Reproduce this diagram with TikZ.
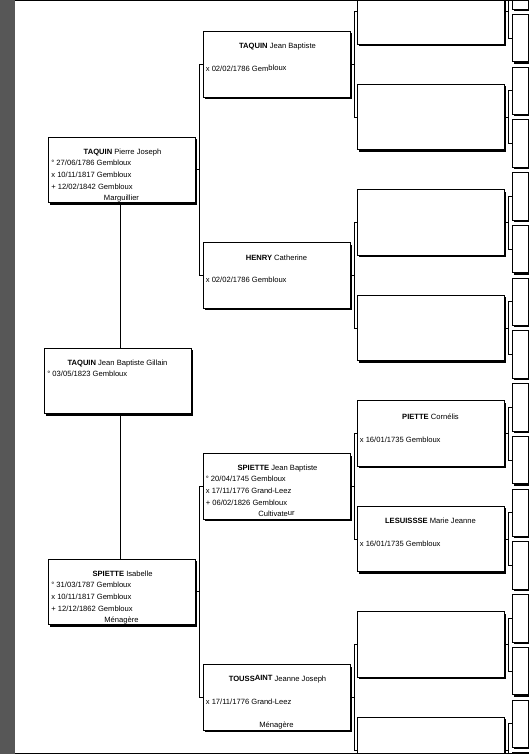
\documentclass[tikz,border=0pt]{standalone}
\usepackage{fontspec}
\setmainfont{Liberation Sans}
\usepackage{tikz}
\usetikzlibrary{calc,positioning,shadows}
\tikzset{
  person/.style={
    shape = rectangle,
    draw,
    fill = white,
    line width = 0.7pt,
    inner sep = 0pt,
    minimum width = 147pt,
    minimum height = 65.5pt,
    general shadow = {fill = black, shadow xshift = 2pt, shadow yshift = -2pt}
  },
}
\tikzset{
  ancestor/.style={
    person,
    minimum width = 16pt,
    minimum height = 47.5pt
  },
}
\tikzset{
  link/.style={
    line width = 0.7pt
  },
  fullname/.style={
    anchor = mid,
    font = \fontsize{7.6}{9}\selectfont,
    inner sep = 0pt
  },
  event/.style={
    anchor = mid west,
    font = \fontsize{7.6}{9}\selectfont,
    inner sep = 0pt
  },
  trade/.style={
    anchor = mid,
    font = \fontsize{7.6}{9}\selectfont,
    inner sep = 0pt
  }
}
\begin{document}
\begin{tikzpicture}[x=1pt,y=-1pt]
    \def\dy{105.5}
    \def\ya{11.5}
    \useasboundingbox (0,0) rectangle (529,754);
    \clip (0,0) rectangle (529,754);
    \fill[black!66] (0,0) rectangle (15,754);
    \node[person] (a) at (117.5, \ya+3.5*\dy) {};
    \foreach \i in {0,1}{
    \node[person] (b\i) at (121.5, \ya+1.5*\dy+4*\i*\dy) {};}
    \foreach \i in {0,...,3}{
    \node[person] (c\i) at (276.5, \ya+0.5*\dy+2*\i*\dy) {};}
    \foreach \i in {0,...,7}{
    \node[person] (d\i) at (430.5, \ya+\i*\dy) {};}
    \foreach \i in {0,...,15}{
    \node[ancestor] (e\i) at (520, \ya-0.25*\dy+0.5*\i*\dy) {};}
    \coordinate (up) at ($(a.north)+(2.5,0)$);
    \coordinate (down) at ($(a.south)+(2.5,0)$);
    \draw[link] (up) -- (up |- b0.south);
    \draw[link] (down) -- (down |- b1.north);
    \draw[link] (a.east) -- ++(2,0);
    \foreach \p/\u/\v in {b0/c0/c1, b1/c2/c3}{
    \draw[link] (\p.east) -- ++(5,0);
    \draw[link] (\u.west) -- ++(-3,0) |- (\v.west);}
    \foreach \p/\u/\v in {c0/d0/d1, c1/d2/d3, c2/d4/d5, c3/d6/d7}{
    \draw[link] (\p.east) -- ++(5,0);
    \draw[link] (\u.west) -- ++(-2,0) |- (\v.west);}
    \foreach \i [evaluate=\i as \u using int(2*\i), evaluate=\i as \v using int(2*\i+1)] in {0,...,7}{
    \draw[link] (d\i.east) -- ++(4.5,0);
    \draw[link] (e\u.west) -- ++(-3.5,0) |- (e\v.west);}
    % texts
    \node[fullname] (a-n) at ($(a.north)+(0,15)$) {\textbf{TAQUIN} Jean Baptiste Gillain};
    \node[event] (a-b) at ($(a.north west)+(3.5,26)$) {° 03/05/1823 Gembloux};
    \node[fullname] (b0-n) at ($(b0.north)+(1,15)$) {\textbf{TAQUIN} Pierre Joseph};
    \node[event] (b0-b) at ($(b0.north west)+(3.5,26)$) {° 27/06/1786 Gembloux};
    \node[event] (b0-m) at ($(b0.north west)+(3.5,38)$) {x 10/11/1817 Gembloux};
    \node[event] (b0-d) at ($(b0.north west)+(3.5,50)$) {+ 12/02/1842 Gembloux};
    \node[trade] (b0-t) at ($(b0.north)+(0,61)$) {Marguillier};
    \node[fullname] (b1-n) at ($(b1.north)+(1,15)$) {\textbf{SPIETTE} Isabelle};
    \node[event] (b1-b) at ($(b1.north west)+(3.5,26)$) {° 31/03/1787 Gembloux};
    \node[event] (b1-m) at ($(b1.north west)+(3.5,38)$) {x 10/11/1817 Gembloux};
    \node[event] (b1-d) at ($(b1.north west)+(3.5,50)$) {+ 12/12/1862 Gembloux};
    \node[trade] (b1-t) at ($(b1.north)+(0,61)$) {Ménagère};
    \node[fullname] (c0-n) at ($(c0.north)+(1,15)$) {\textbf{TAQUIN} Jean Baptiste};
    \node[event] (c0-m) at ($(c0.north west)+(3,38)$) {x 02/02/1786 Gem\raisebox{1.3pt}{bloux}};
    \node[fullname] (c1-n) at ($(c1.north)+(0,16)$) {\textbf{HENRY} Catherine};
    \node[event] (c1-m) at ($(c1.north west)+(3,38)$) {x 02/02/1786 Gembloux};
    \node[fullname] (c2-n) at ($(c2.north)+(1,15)$) {\textbf{SPIETTE} Jean Baptiste};
    \node[event] (c2-b) at ($(c2.north west)+(3,26)$) {° 20/04/1745 Gembloux};
    \node[event] (c2-m) at ($(c2.north west)+(3,38)$) {x 17/11/1776 Grand-Leez};
    \node[event] (c2-d) at ($(c2.north west)+(3,50)$) {+ 06/02/1826 Gembloux};
    \node[trade] (c2-t) at ($(c2.north)+(0,61)$) {Cultivate\raisebox{1.3pt}{ur}};
    \node[fullname] (c3-n) at ($(c3.north)+(1,15)$) {\textbf{TOUSS\raisebox{1pt}{AINT}} Jeanne Joseph};
    \node[event] (c3-m) at ($(c3.north west)+(3,38)$) {x 17/11/1776 Grand-Leez};
    \node[trade] (c3-t) at ($(c3.north)+(0,61)$) {Ménagère};
    \node[fullname] (d4-n) at ($(d4.north)+(0,16)$) {\textbf{PIETTE} Cornélis};
    \node[event] (d4-m) at ($(d4.north west)+(3,39)$) {x 16/01/1735 Gembloux};
    \node[fullname] (d5-n) at ($(d5.north)+(0,15)$) {\textbf{LESUISSSE} Marie Jeanne};
    \node[event] (d5-m) at ($(d5.north west)+(3,38)$) {x 16/01/1735 Gembloux};
    \draw[link] (15,0.5) -- (529,0.5);
    \draw[link] (15,753.2) -- (529,753.2);
\end{tikzpicture}
\end{document}
